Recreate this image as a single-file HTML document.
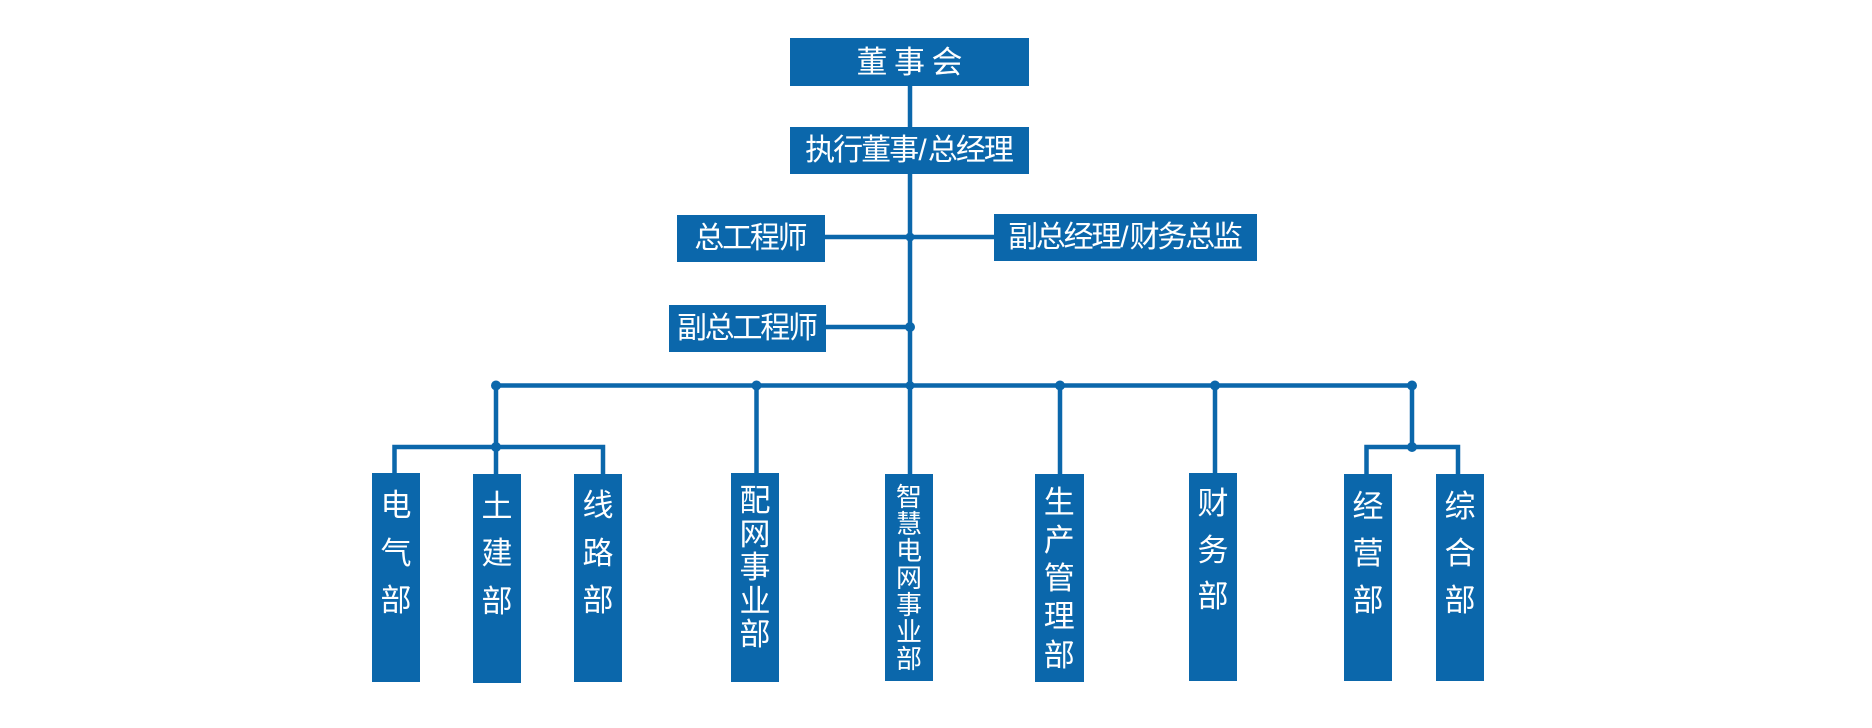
<!DOCTYPE html>
<html>
<head>
<meta charset="utf-8">
<style>
  html, body { margin:0; padding:0; background:#ffffff; }
  body { width:1872px; height:728px; position:relative; overflow:hidden;
         font-family:"Liberation Sans","Noto Sans CJK SC","WenQuanYi Zen Hei",sans-serif; }
  svg { position:absolute; left:0; top:0; }
  .b { position:absolute; background:#0B67AB; color:#fff; }
  .h { display:flex; align-items:center; justify-content:center; white-space:nowrap; line-height:1; }
  .v { position:absolute; color:#fff; text-align:center; }
  .sl { display:inline-block; width:12.7px; text-align:center; letter-spacing:0; }
</style>
</head>
<body>
<svg width="1872" height="728" viewBox="0 0 1872 728">
  <g stroke="#0B67AB" stroke-width="4.5" fill="none" stroke-linejoin="miter">
    <path d="M910,86 V386"/>
    <path d="M825,237 H994"/>
    <path d="M826,327 H910"/>
    <path d="M496,385.5 H1412"/>
    <path d="M496,385 V474"/>
    <path d="M394.5,473 V447 H603 V474"/>
    <path d="M756.5,385 V473"/>
    <path d="M910,385 V474"/>
    <path d="M1060,385 V474"/>
    <path d="M1215,385 V473"/>
    <path d="M1412,385 V447"/>
    <path d="M1366.5,474 V447 H1458 V474"/>
  </g>
  <g fill="#0B67AB">
    <circle cx="910" cy="237" r="4.5"/>
    <circle cx="910" cy="327" r="5"/>
    <circle cx="496" cy="385.5" r="5"/>
    <circle cx="756.5" cy="385.5" r="5"/>
    <circle cx="910" cy="385.5" r="4.5"/>
    <circle cx="1060" cy="385.5" r="5"/>
    <circle cx="1215" cy="385.5" r="5"/>
    <circle cx="1412" cy="385.5" r="5"/>
    <circle cx="496" cy="447" r="5"/>
    <circle cx="1412" cy="447" r="5"/>
  </g>
</svg>

<!-- top boxes -->
<div class="b h" style="left:790px;top:38px;width:239px;height:48px;font-size:31px;letter-spacing:6.5px;text-indent:6.5px;">董事会</div>
<div class="b h" style="left:790px;top:127px;width:239px;height:47px;font-size:30px;letter-spacing:-2px;text-indent:-2px;">执行董事<span class="sl">/</span>总经理</div>
<div class="b h" style="left:677px;top:215px;width:148px;height:47px;font-size:30px;letter-spacing:-2.25px;text-indent:-2.25px;">总工程师</div>
<div class="b h" style="left:994px;top:214px;width:263px;height:47px;font-size:30px;letter-spacing:-2.25px;text-indent:-2.25px;">副总经理<span class="sl">/</span>财务总监</div>
<div class="b h" style="left:669px;top:305px;width:157px;height:47px;font-size:30px;letter-spacing:-2.25px;text-indent:-2.25px;">副总工程师</div>

<!-- bottom boxes -->
<div class="b" style="left:372px;top:473px;width:48px;height:209px;"></div>
<div class="v" style="left:372px;top:482px;width:48px;font-size:31px;line-height:47.6px;">电<br>气<br>部</div>

<div class="b" style="left:473px;top:474px;width:48px;height:209px;"></div>
<div class="v" style="left:473px;top:482.5px;width:48px;font-size:31px;line-height:47.6px;">土<br>建<br>部</div>

<div class="b" style="left:574px;top:474px;width:48px;height:208px;"></div>
<div class="v" style="left:574px;top:482px;width:48px;font-size:31px;line-height:47.6px;">线<br>路<br>部</div>

<div class="b" style="left:731px;top:473px;width:48px;height:209px;"></div>
<div class="v" style="left:731px;top:484px;width:48px;font-size:31px;line-height:33.6px;">配<br>网<br>事<br>业<br>部</div>

<div class="b" style="left:885px;top:474px;width:48px;height:207px;"></div>
<div class="v" style="left:885px;top:484px;width:48px;font-size:26px;line-height:27px;">智<br>慧<br>电<br>网<br>事<br>业<br>部</div>

<div class="b" style="left:1035px;top:474px;width:48.5px;height:208px;"></div>
<div class="v" style="left:1035px;top:483.5px;width:48.5px;font-size:31px;line-height:38.3px;">生<br>产<br>管<br>理<br>部</div>

<div class="b" style="left:1189px;top:473px;width:48px;height:208px;"></div>
<div class="v" style="left:1189px;top:481px;width:48px;font-size:31px;line-height:46.7px;">财<br>务<br>部</div>

<div class="b" style="left:1344px;top:474px;width:48px;height:207px;"></div>
<div class="v" style="left:1344px;top:482.5px;width:48px;font-size:31px;line-height:47px;">经<br>营<br>部</div>

<div class="b" style="left:1436px;top:474px;width:48px;height:207px;"></div>
<div class="v" style="left:1436px;top:482.5px;width:48px;font-size:31px;line-height:47px;">综<br>合<br>部</div>
</body>
</html>
